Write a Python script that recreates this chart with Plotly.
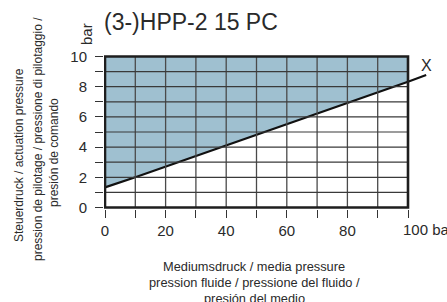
import plotly.graph_objects as go

# ---- data ----
media_pressure = [0, 10, 100, 106]          # bar
actuation_pressure = [1.33, 2.0, 8.33, 8.77]  # bar
x_tick_vals = [0, 10, 20, 30, 40, 50, 60, 70, 80, 90, 100]
x_tick_text = ["0", "", "20", "", "40", "", "60", "", "80", "", ""]
y_tick_vals = [0, 1, 2, 3, 4, 5, 6, 7, 8, 9, 10]
y_tick_text = ["0", "", "2", "", "4", "", "6", "", "8", "", "10"]
x_max = 100
y_max = 10
title_text = "(3-)HPP-2 15 PC"
x_title_lines = ["Mediumsdruck / media pressure",
                 "pression fluide / pressione del fluido /",
                 "presión del medio"]
y_title_lines = ["Steuerdruck / actuation pressure",
                 "pression de pilotage / pressione di pilotaggio /",
                 "presión de comando"]

W, H = 447, 302
ML, MR, MT, MB = 104, 15, 55, 93
PW = W - ML - MR
PH = H - MT - MB

def px(xp):
    return (xp - ML) / PW

def py(yp):
    return (H - MB - yp) / PH

FONT = "Liberation Sans, Arial, sans-serif"
TXT = "#2a2a2a"

fig = go.Figure()

n_region = 3  # points of the curve lying inside 0..100
fig.add_trace(go.Scatter(
    x=media_pressure[:n_region] + [x_max, 0],
    y=actuation_pressure[:n_region] + [y_max, y_max],
    fill="toself", fillcolor="#9fc0d0",
    line=dict(width=0), mode="lines", hoverinfo="skip", showlegend=False))

fig.add_trace(go.Scatter(
    x=media_pressure, y=actuation_pressure, mode="lines",
    line=dict(color="#111111", width=2.2), hoverinfo="skip", showlegend=False))

shapes = []
for xv in x_tick_vals[1:-1]:
    shapes.append(dict(type="line", xref="x", yref="y", x0=xv, x1=xv, y0=0, y1=y_max,
                       line=dict(color="#4a4a4a", width=1.3), layer="above"))
for yv in y_tick_vals[1:-1]:
    shapes.append(dict(type="line", xref="x", yref="y", x0=0, x1=x_max, y0=yv, y1=yv,
                       line=dict(color="#3a3a3a", width=1.2), layer="above"))
shapes.append(dict(type="rect", xref="x", yref="y", x0=0, x1=x_max, y0=0, y1=y_max,
                   line=dict(color="#1e1e1e", width=2.6), layer="above"))

annotations = [
    dict(text=title_text, xref="paper", yref="paper", x=px(102), y=py(22),
         xanchor="left", yanchor="middle", showarrow=False,
         font=dict(size=23, color=TXT, family=FONT)),
    dict(text="bar", xref="paper", yref="paper", x=px(87), y=py(34), textangle=-90,
         xanchor="center", yanchor="middle", showarrow=False,
         font=dict(size=15, color=TXT, family=FONT)),
    dict(text="X", xref="paper", yref="paper", x=px(426), y=py(65),
         xanchor="center", yanchor="middle", showarrow=False,
         font=dict(size=16, color=TXT, family=FONT)),
    dict(text="100 bar", xref="paper", yref="paper", x=px(401), y=py(230),
         xanchor="left", yanchor="middle", showarrow=False,
         font=dict(size=15, color=TXT, family=FONT)),
]
for t, yc in zip(x_title_lines, [266, 282, 298]):
    annotations.append(dict(text=t, xref="paper", yref="paper", x=px(254), y=py(yc),
                            xanchor="center", yanchor="middle", showarrow=False,
                            font=dict(size=12.8, color=TXT, family=FONT)))
for t, xc, yc in zip(y_title_lines, [19, 38, 54], [155, 139, 153]):
    annotations.append(dict(text=t, xref="paper", yref="paper", x=px(xc), y=py(yc),
                            textangle=-90, xanchor="center", yanchor="middle",
                            showarrow=False,
                            font=dict(size=12, color=TXT, family=FONT)))

fig.update_layout(
    width=W, height=H,
    margin=dict(l=ML, r=MR, t=MT, b=MB, pad=0),
    paper_bgcolor="white", plot_bgcolor="white",
    shapes=shapes, annotations=annotations, showlegend=False,
    xaxis=dict(range=[(ML - 105) / 3.03, (W - MR - 105) / 3.03],
               tickvals=x_tick_vals, ticktext=x_tick_text,
               ticks="outside", ticklen=8, tickwidth=1.2, tickcolor="#333",
               showgrid=False, zeroline=False, showline=False,
               ticklabelstandoff=0,
               tickfont=dict(size=15, color=TXT, family=FONT), fixedrange=True),
    yaxis=dict(range=[-0.1, 10.1],
               tickvals=y_tick_vals, ticktext=y_tick_text,
               ticks="outside", ticklen=8, tickwidth=1.2, tickcolor="#333",
               showgrid=False, zeroline=False, showline=False,
               ticklabelstandoff=5,
               tickfont=dict(size=15, color=TXT, family=FONT), fixedrange=True),
)

fig.write_html("out.html", config=dict(displayModeBar=False),
               post_script="document.body.style.margin='0';document.body.style.overflow='hidden';")
